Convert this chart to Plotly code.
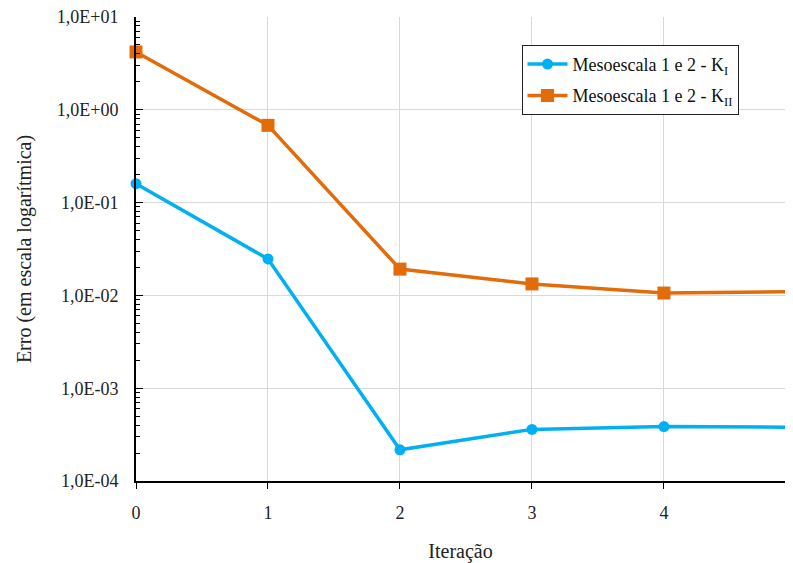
import plotly.graph_objects as go

iteracoes = [0, 1, 2, 3, 4, 5]
erro_ki = [0.16, 0.0247, 2.17e-4, 3.6e-4, 3.86e-4, 3.8e-4]
erro_kii = [4.2, 0.68, 0.0192, 0.0133, 0.0106, 0.011]
ytick_vals = [1e-4, 1e-3, 1e-2, 1e-1, 1e0, 1e1]
ytick_text = ["1,0E-04", "1,0E-03", "1,0E-02", "1,0E-01", "1,0E+00", "1,0E+01"]
xtick_vals = [0, 1, 2, 3, 4, 5]

blue = "#00B0F0"
orange = "#E36C0A"
font = "Liberation Serif, Times New Roman, serif"

fig = go.Figure()
fig.add_trace(go.Scatter(
    x=iteracoes, y=erro_ki, mode="lines+markers",
    name="Mesoescala 1 e 2 - K<sub>I</sub>", legendgroup="a",
    line=dict(color=blue, width=3.5),
    marker=dict(symbol="circle", size=11, color=blue),
    cliponaxis=False,
))
fig.add_trace(go.Scatter(
    x=iteracoes, y=erro_kii, mode="lines+markers",
    name="Mesoescala 1 e 2 - K<sub>II</sub>", legendgroup="b",
    line=dict(color=orange, width=3.5),
    marker=dict(symbol="square", size=13, color=orange),
    cliponaxis=False,
))

fig.update_layout(
    width=777, height=555,
    margin=dict(l=128, r=0, t=9, b=82),
    paper_bgcolor="white", plot_bgcolor="white",
    font=dict(family=font, size=18, color="#222"),
    legend=dict(
        x=0.594, y=0.94, xanchor="left", yanchor="top",
        bordercolor="#222", borderwidth=1, bgcolor="white",
        font=dict(family=font, size=18, color="#111"),
        tracegroupgap=5, itemwidth=40,
    ),
    showlegend=True,
)
fig.update_xaxes(
    range=[0, 4.917], tickvals=xtick_vals, ticktext=[str(v) for v in xtick_vals],
    showline=True, linecolor="black", linewidth=2,
    ticks="outside", ticklen=6, tickcolor="black", tickwidth=1,
    ticklabelstandoff=8, ticklabeloverflow="allow",
    showgrid=True, gridcolor="#D9D9D9", gridwidth=1,
    zeroline=False,
    title=dict(text="Iteração", font=dict(family=font, size=20), standoff=22),
)
fig.update_yaxes(
    type="log", range=[-4, 1], tickvals=ytick_vals, ticktext=ytick_text,
    showline=True, linecolor="black", linewidth=2,
    ticks="inside", ticklen=7, tickcolor="black", tickwidth=1,
    ticklabelstandoff=12, ticklabeloverflow="allow",
    minor=dict(ticks="inside", ticklen=4, tickcolor="black", dtick="D1", showgrid=False),
    showgrid=True, gridcolor="#D9D9D9", gridwidth=1,
    zeroline=False,
    title=dict(text="Erro (em escala logarítmica)", font=dict(family=font, size=20), standoff=20),
)

fig.write_html("out.html")
